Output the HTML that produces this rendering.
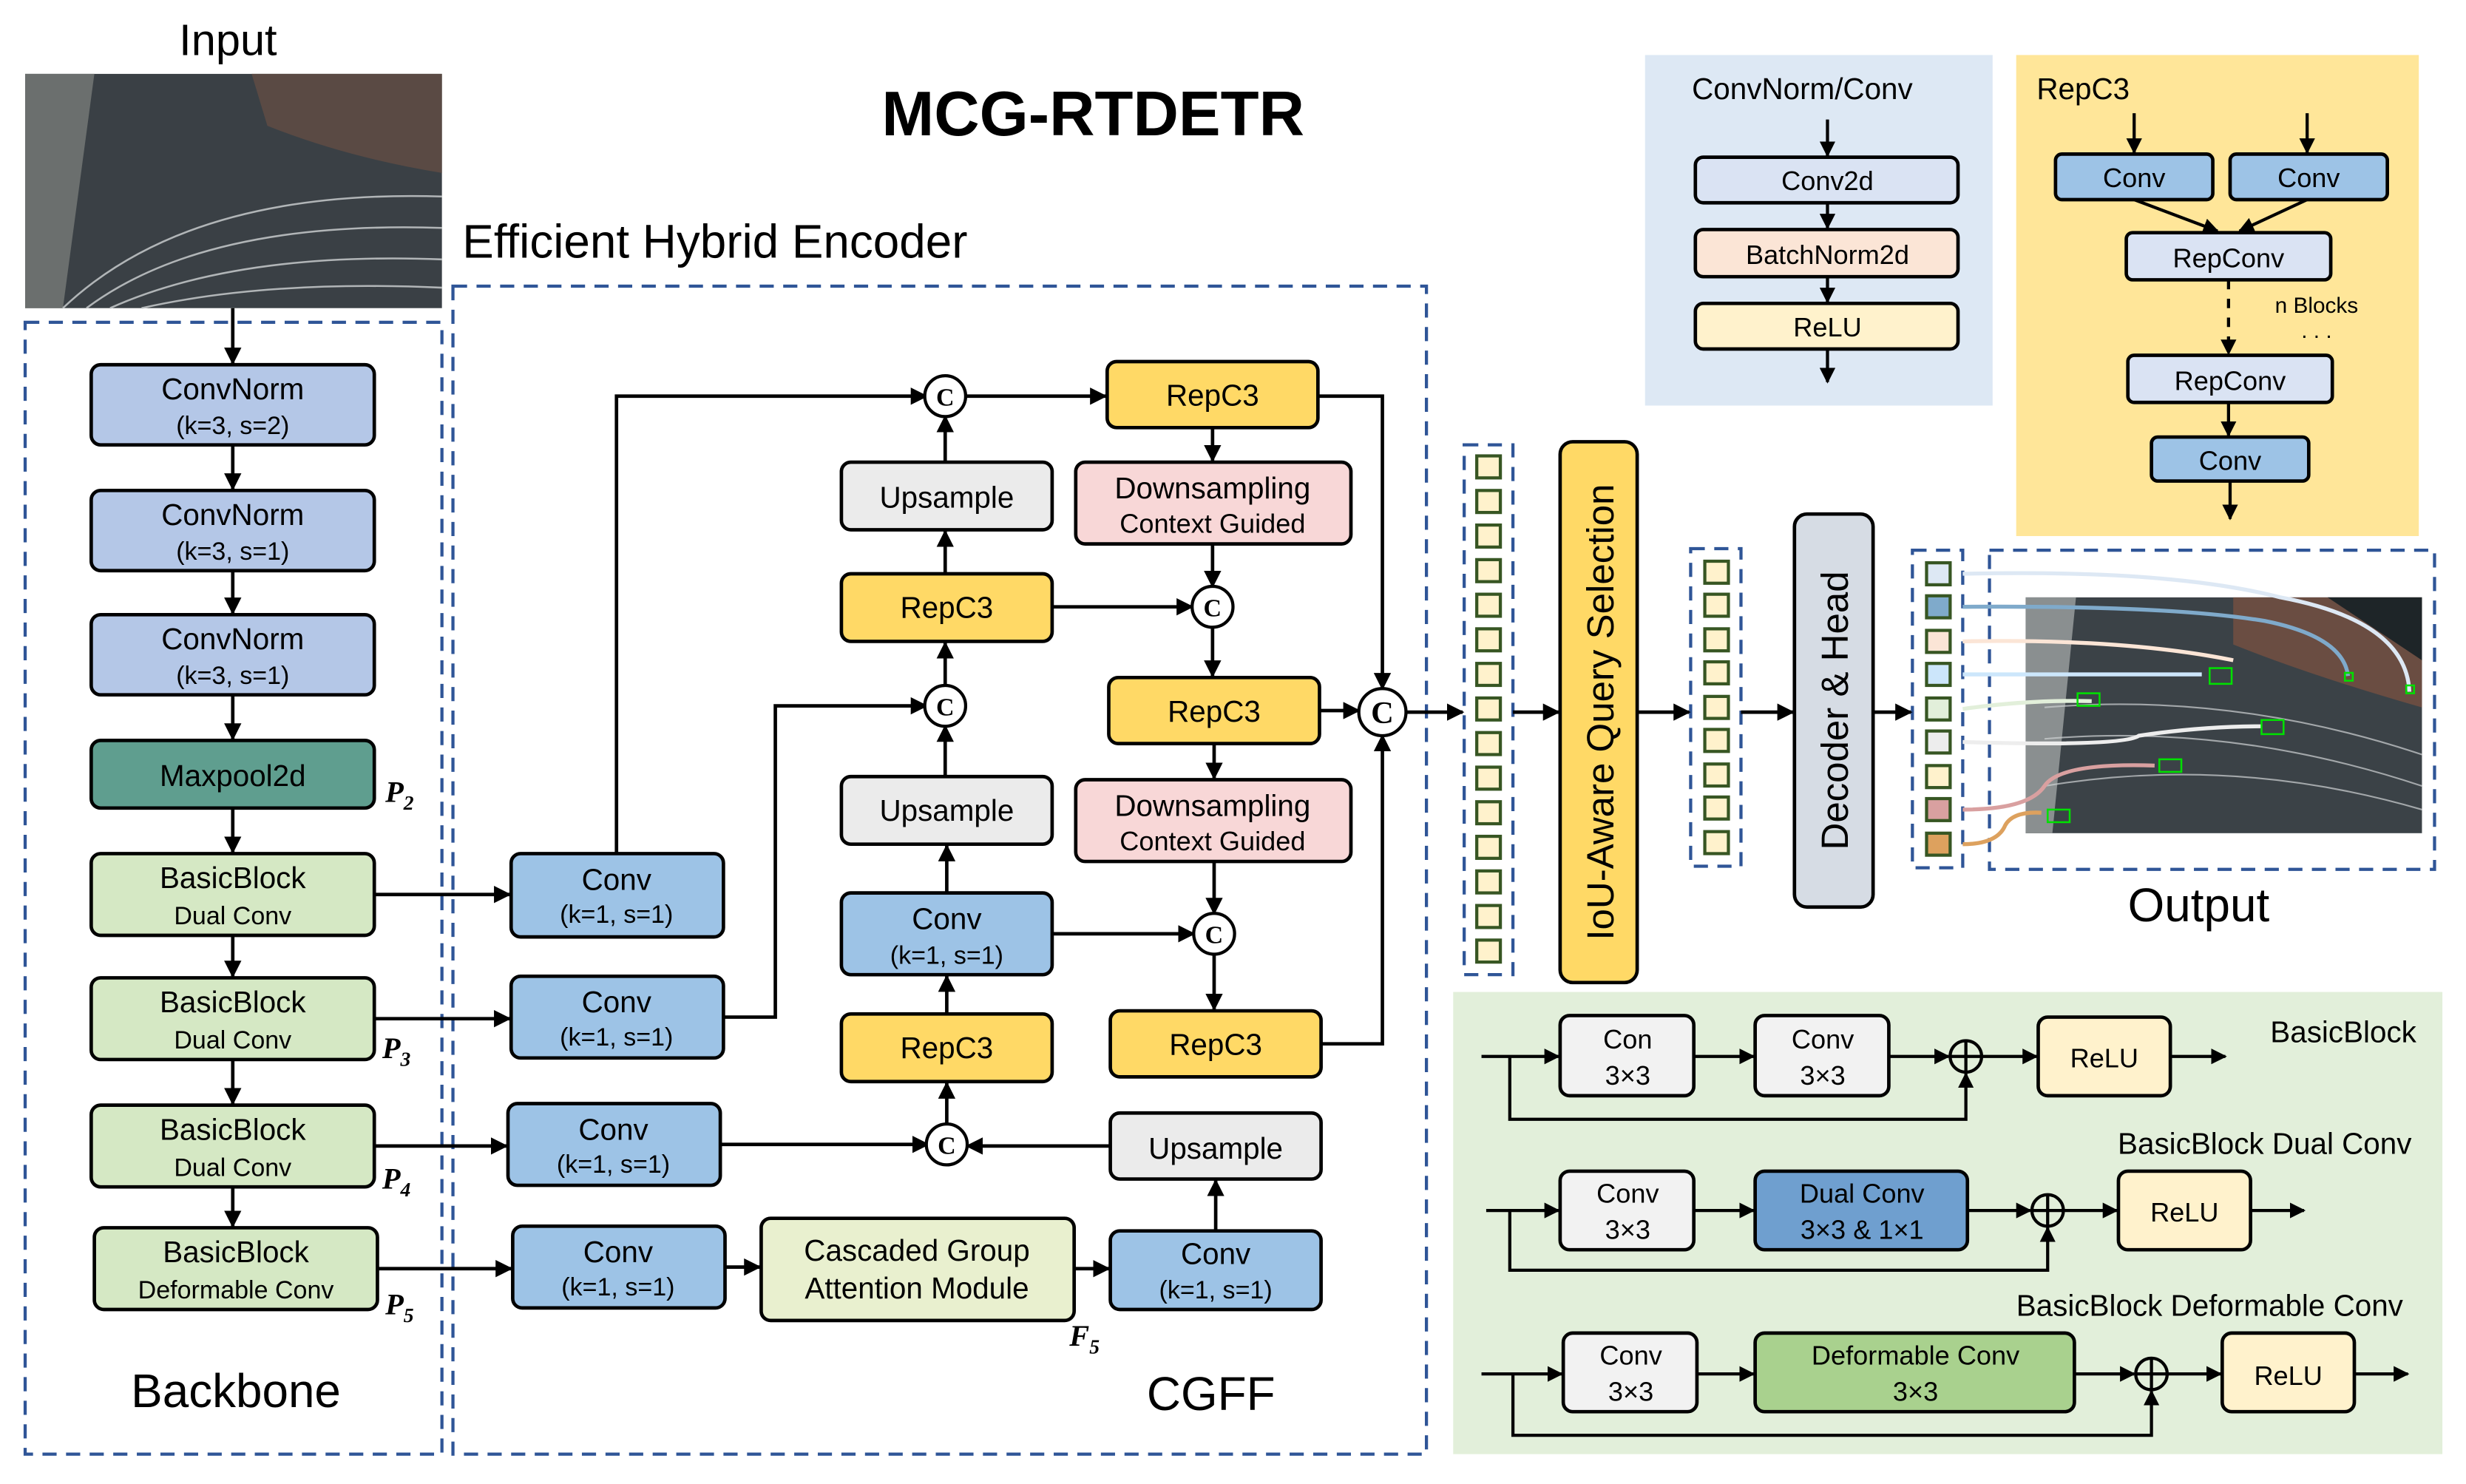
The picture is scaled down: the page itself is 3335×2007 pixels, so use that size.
<!DOCTYPE html>
<html><head><meta charset="utf-8"><style>html,body{margin:0;padding:0;background:#fff}svg{display:block}</style></head><body>
<svg width="3335" height="2007" viewBox="0 0 1568 944" preserveAspectRatio="none" xmlns="http://www.w3.org/2000/svg" font-family="Liberation Sans, DejaVu Sans, sans-serif">
<defs>
<marker id="a" viewBox="0 0 10 10" refX="9" refY="5" markerWidth="5" markerHeight="5" orient="auto-start-reverse"><path d="M0,0L10,5L0,10z" fill="#000"/></marker>
</defs>
<rect width="1568" height="944" fill="#fff"/>
<text x="145" y="35" font-size="28" text-anchor="middle">Input</text>
<text x="695" y="86" font-size="40" font-weight="bold" text-anchor="middle">MCG-RTDETR</text>
<text x="294" y="164" font-size="30">Efficient Hybrid Encoder</text>
<rect x="16" y="47" width="265" height="149" fill="#3a4045"/>
<path d="M16,47 L60,47 L40,196 L16,196z" fill="#6b6f6e"/>
<path d="M160,47 L281,47 L281,110 Q220,100 170,80z" fill="#5a4a44"/>
<g stroke="#cfd3d4" stroke-width="1.2" fill="none" opacity="0.8">
<path d="M40,196 Q120,120 281,125"/><path d="M55,196 Q130,140 281,145"/><path d="M70,196 Q150,160 281,165"/><path d="M90,196 Q170,178 281,183"/>
</g>
<g fill="none" stroke="#2f5597" stroke-width="2" stroke-dasharray="9,6">
<rect x="16" y="205" width="265" height="720"/>
<rect x="288" y="182" width="619" height="743"/>
<rect x="931" y="283" width="31" height="337"/>
<rect x="1075" y="349" width="32" height="202"/>
<rect x="1216" y="350" width="32" height="202"/>
<rect x="1265" y="350" width="283" height="203"/>
</g>
<g stroke="#000" stroke-width="2.2" font-size="19" text-anchor="middle">
<rect x="58" y="232" width="180" height="51" rx="6" fill="#b4c7e7"/>
<rect x="58" y="312" width="180" height="51" rx="6" fill="#b4c7e7"/>
<rect x="58" y="391" width="180" height="51" rx="6" fill="#b4c7e7"/>
<rect x="58" y="471" width="180" height="43" rx="6" fill="#5f9e8f"/>
<rect x="58" y="543" width="180" height="52" rx="6" fill="#d5e8c4"/>
<rect x="58" y="622" width="180" height="52" rx="6" fill="#d5e8c4"/>
<rect x="58" y="703" width="180" height="52" rx="6" fill="#d5e8c4"/>
<rect x="60" y="781" width="180" height="52" rx="6" fill="#d5e8c4"/>
<rect x="325" y="543" width="135" height="53" rx="6" fill="#9dc3e6"/>
<rect x="325" y="621" width="135" height="52" rx="6" fill="#9dc3e6"/>
<rect x="323" y="702" width="135" height="52" rx="6" fill="#9dc3e6"/>
<rect x="326" y="780" width="135" height="52" rx="6" fill="#9dc3e6"/>
<rect x="484" y="775" width="199" height="65" rx="6" fill="#e9f0cf"/>
<rect x="706" y="783" width="134" height="50" rx="6" fill="#9dc3e6"/>
<rect x="706" y="708" width="134" height="42" rx="6" fill="#ebebeb"/>
<rect x="535" y="645" width="134" height="43" rx="6" fill="#ffd966"/>
<rect x="535" y="568" width="134" height="52" rx="6" fill="#9dc3e6"/>
<rect x="535" y="494" width="134" height="43" rx="6" fill="#ebebeb"/>
<rect x="535" y="365" width="134" height="43" rx="6" fill="#ffd966"/>
<rect x="535" y="294" width="134" height="43" rx="6" fill="#ebebeb"/>
<rect x="704" y="230" width="134" height="42" rx="6" fill="#ffd966"/>
<rect x="684" y="294" width="175" height="52" rx="6" fill="#f8d7d7"/>
<rect x="705" y="431" width="134" height="42" rx="6" fill="#ffd966"/>
<rect x="684" y="496" width="175" height="52" rx="6" fill="#f8d7d7"/>
<rect x="706" y="643" width="134" height="42" rx="6" fill="#ffd966"/>
<rect x="992" y="281" width="49" height="344" rx="8" fill="#ffd966"/>
<rect x="1141" y="327" width="50" height="250" rx="8" fill="#d6dce4"/>
</g>
<g font-size="19" text-anchor="middle" fill="#000">
<text x="148" y="254">ConvNorm</text><text x="148" y="276" font-size="16">(k=3, s=2)</text>
<text x="148" y="334">ConvNorm</text><text x="148" y="356" font-size="16">(k=3, s=1)</text>
<text x="148" y="413">ConvNorm</text><text x="148" y="435" font-size="16">(k=3, s=1)</text>
<text x="148" y="500">Maxpool2d</text>
<text x="148" y="565">BasicBlock</text><text x="148" y="588" font-size="16">Dual Conv</text>
<text x="148" y="644">BasicBlock</text><text x="148" y="667" font-size="16">Dual Conv</text>
<text x="148" y="725">BasicBlock</text><text x="148" y="748" font-size="16">Dual Conv</text>
<text x="150" y="803">BasicBlock</text><text x="150" y="826" font-size="16">Deformable Conv</text>
<text x="392" y="566">Conv</text><text x="392" y="587" font-size="16">(k=1, s=1)</text>
<text x="392" y="644">Conv</text><text x="392" y="665" font-size="16">(k=1, s=1)</text>
<text x="390" y="725">Conv</text><text x="390" y="746" font-size="16">(k=1, s=1)</text>
<text x="393" y="803">Conv</text><text x="393" y="824" font-size="16">(k=1, s=1)</text>
<text x="583" y="802">Cascaded Group</text><text x="583" y="826">Attention Module</text>
<text x="773" y="804">Conv</text><text x="773" y="826" font-size="16">(k=1, s=1)</text>
<text x="773" y="737">Upsample</text>
<text x="602" y="673">RepC3</text>
<text x="602" y="591">Conv</text><text x="602" y="613" font-size="16">(k=1, s=1)</text>
<text x="602" y="522">Upsample</text>
<text x="602" y="393">RepC3</text>
<text x="602" y="323">Upsample</text>
<text x="771" y="258">RepC3</text>
<text x="771" y="317">Downsampling</text><text x="771" y="339" font-size="17">Context Guided</text>
<text x="772" y="459">RepC3</text>
<text x="771" y="519">Downsampling</text><text x="771" y="541" font-size="17">Context Guided</text>
<text x="773" y="671">RepC3</text>
<text x="150" y="895" font-size="30">Backbone</text>
<text x="770" y="897" font-size="30">CGFF</text>
<text x="1398" y="586" font-size="30">Output</text>
<text transform="translate(1026,453) rotate(-90)" font-size="24">IoU-Aware Query Selection</text>
<text transform="translate(1175,452) rotate(-90)" font-size="24">Decoder &amp; Head</text>
</g>
<g font-family="Liberation Serif, serif" font-style="italic" font-weight="bold" font-size="19">
<text x="245" y="510">P<tspan font-size="13" dy="5">2</tspan></text>
<text x="243" y="673">P<tspan font-size="13" dy="5">3</tspan></text>
<text x="243" y="756">P<tspan font-size="13" dy="5">4</tspan></text>
<text x="245" y="836">P<tspan font-size="13" dy="5">5</tspan></text>
<text x="680" y="856">F<tspan font-size="13" dy="5">5</tspan></text>
</g>
<g stroke="#000" stroke-width="2.2" fill="none" marker-end="url(#a)">
<path d="M148,196V231"/><path d="M148,283V311"/><path d="M148,363V390"/><path d="M148,442V470"/><path d="M148,514V542"/><path d="M148,595V621"/><path d="M148,674V702"/><path d="M148,755V780"/>
<path d="M238,569H324"/><path d="M238,648H324"/><path d="M238,729H322"/><path d="M240,807H325"/>
<path d="M392,543V252H589"/>
<path d="M460,647H493V449H589"/>
<path d="M458,728H590"/>
<path d="M461,806H483"/>
<path d="M683,807H705"/>
<path d="M773,783V751"/>
<path d="M706,729H615"/>
<path d="M602,716V689"/>
<path d="M602,645V621"/>
<path d="M602,568V538"/>
<path d="M601,494V462"/>
<path d="M601,437V409"/>
<path d="M601,365V338"/>
<path d="M601,294V265"/>
<path d="M614,252H703"/>
<path d="M771,272V293"/>
<path d="M771,346V373"/>
<path d="M669,386H758"/>
<path d="M771,399V430"/>
<path d="M772,473V495"/>
<path d="M772,548V581"/>
<path d="M669,594H759"/>
<path d="M772,607V642"/>
<path d="M838,252H879V438"/>
<path d="M839,452H864"/>
<path d="M840,664H879V468"/>
<path d="M894,453H930"/>
<path d="M962,453H991"/>
<path d="M1041,453H1074"/>
<path d="M1107,453H1140"/>
<path d="M1191,453H1215"/>
</g>
<g stroke="#000" stroke-width="2" fill="#fff">
<circle cx="601" cy="252" r="13"/><circle cx="771" cy="386" r="13"/><circle cx="601" cy="449" r="13"/><circle cx="772" cy="594" r="13"/><circle cx="602" cy="728" r="13"/><circle cx="879" cy="453" r="15"/>
</g>
<g font-family="Liberation Serif, serif" font-size="16" text-anchor="middle" font-weight="bold">
<text x="601" y="258">C</text><text x="771" y="392">C</text><text x="601" y="455">C</text><text x="772" y="600">C</text><text x="602" y="734">C</text><text x="879" y="460" font-size="20">C</text>
</g>
<g stroke="#375623" stroke-width="2" fill="#fff2cc">
<rect x="939" y="290" width="15" height="14"/><rect x="939" y="312" width="15" height="14"/><rect x="939" y="334" width="15" height="14"/><rect x="939" y="356" width="15" height="14"/><rect x="939" y="378" width="15" height="14"/><rect x="939" y="400" width="15" height="14"/><rect x="939" y="422" width="15" height="14"/><rect x="939" y="444" width="15" height="14"/><rect x="939" y="466" width="15" height="14"/><rect x="939" y="488" width="15" height="14"/><rect x="939" y="510" width="15" height="14"/><rect x="939" y="532" width="15" height="14"/><rect x="939" y="554" width="15" height="14"/><rect x="939" y="576" width="15" height="14"/><rect x="939" y="598" width="15" height="14"/>
<rect x="1084" y="357" width="15" height="14"/><rect x="1084" y="378" width="15" height="14"/><rect x="1084" y="400" width="15" height="14"/><rect x="1084" y="421" width="15" height="14"/><rect x="1084" y="443" width="15" height="14"/><rect x="1084" y="464" width="15" height="14"/><rect x="1084" y="486" width="15" height="14"/><rect x="1084" y="507" width="15" height="14"/><rect x="1084" y="529" width="15" height="14"/>
<rect x="1225" y="358" width="15" height="14" fill="#dde8f4"/><rect x="1225" y="379" width="15" height="14" fill="#7faacb"/><rect x="1225" y="401" width="15" height="14" fill="#fbe5d6"/><rect x="1225" y="422" width="15" height="14" fill="#cce6fb"/><rect x="1225" y="444" width="15" height="14" fill="#e2efda"/><rect x="1225" y="465" width="15" height="14" fill="#ededed"/><rect x="1225" y="487" width="15" height="14" fill="#fff2cc"/><rect x="1225" y="508" width="15" height="14" fill="#d9a0a0"/><rect x="1225" y="530" width="15" height="14" fill="#dda15e"/>
</g>
<rect x="1288" y="380" width="252" height="150" fill="#3b4247"/>
<path d="M1288,380 L1320,380 L1305,530 L1288,530z" fill="#8a8f90"/>
<path d="M1420,380 L1540,380 L1540,450 Q1470,430 1420,410z" fill="#6a4d42"/>
<path d="M1480,380 L1540,380 L1540,420z" fill="#1e2528"/>
<g stroke="#cfd3d4" stroke-width="1" fill="none" opacity="0.7">
<path d="M1300,450 Q1420,440 1540,480"/><path d="M1300,470 Q1420,460 1540,500"/><path d="M1300,500 Q1420,480 1540,515"/>
</g>
<g fill="none" stroke-width="2.5">
<path d="M1248,365 Q1380,362 1450,380 Q1530,395 1532,440" stroke="#dde8f4"/>
<path d="M1248,386 Q1380,385 1440,395 Q1490,405 1493,430" stroke="#7faacb"/>
<path d="M1248,408 Q1350,406 1420,420" stroke="#fbe5d6"/>
<path d="M1248,429 H1400" stroke="#cce6fb"/>
<path d="M1248,451 Q1290,445 1330,446" stroke="#e2efda"/>
<path d="M1248,472 Q1350,475 1360,468 Q1400,462 1438,462" stroke="#ededed"/>
<path d="M1248,515 Q1290,515 1300,500 Q1310,485 1370,487" stroke="#d9a0a0"/>
<path d="M1248,537 Q1270,537 1275,525 Q1280,516 1298,517" stroke="#dda15e"/>
</g>
<g fill="none" stroke="#00e000" stroke-width="1.2">
<rect x="1405" y="425" width="14" height="10"/><rect x="1321" y="441" width="14" height="8"/><rect x="1438" y="458" width="14" height="9"/><rect x="1373" y="483" width="14" height="8"/><rect x="1302" y="515" width="14" height="8"/><rect x="1530" y="436" width="5" height="5"/><rect x="1491" y="428" width="5" height="5"/>
</g>
<rect x="1046" y="35" width="221" height="223" fill="#dde8f4"/>
<text x="1146" y="63" font-size="19" text-anchor="middle">ConvNorm/Conv</text>
<g stroke="#000" stroke-width="2.2">
<rect x="1078" y="100" width="167" height="29" rx="5" fill="#dae3f3"/>
<rect x="1078" y="146" width="167" height="30" rx="5" fill="#fbe5d6"/>
<rect x="1078" y="193" width="167" height="29" rx="5" fill="#fff2cc"/>
</g>
<g stroke="#000" stroke-width="2" marker-end="url(#a)" fill="none">
<path d="M1162,76V99"/><path d="M1162,129V145"/><path d="M1162,176V192"/><path d="M1162,222V243"/>
</g>
<g font-size="17" text-anchor="middle"><text x="1162" y="121">Conv2d</text><text x="1162" y="168">BatchNorm2d</text><text x="1162" y="214">ReLU</text></g>
<rect x="1282" y="35" width="256" height="306" fill="#ffe699"/>
<text x="1295" y="63" font-size="19">RepC3</text>
<g stroke="#000" stroke-width="2.2">
<rect x="1307" y="98" width="100" height="29" rx="4" fill="#9dc3e6"/>
<rect x="1418" y="98" width="100" height="29" rx="4" fill="#9dc3e6"/>
<rect x="1352" y="148" width="130" height="30" rx="4" fill="#dae3f3"/>
<rect x="1353" y="226" width="130" height="30" rx="4" fill="#dae3f3"/>
<rect x="1368" y="278" width="100" height="28" rx="4" fill="#9dc3e6"/>
</g>
<g stroke="#000" stroke-width="2" fill="none" marker-end="url(#a)">
<path d="M1357,72V97"/><path d="M1467,72V97"/><path d="M1357,127L1410,147"/><path d="M1467,127L1424,147"/><path d="M1417,256V277"/><path d="M1418,306V330"/>
<path d="M1417,178V225" stroke-dasharray="6,6"/>
</g>
<g font-size="17" text-anchor="middle"><text x="1357" y="119">Conv</text><text x="1468" y="119">Conv</text><text x="1417" y="170">RepConv</text><text x="1418" y="248">RepConv</text><text x="1418" y="299">Conv</text>
<text x="1473" y="199" font-size="14">n Blocks</text><text x="1473" y="215" font-size="14">. . .</text></g>
<rect x="924" y="631" width="629" height="294" fill="#e2efda"/>
<g stroke="#000" stroke-width="2.2">
<rect x="992" y="646" width="85" height="51" rx="6" fill="#f2f2f2"/>
<rect x="1116" y="646" width="85" height="51" rx="6" fill="#f2f2f2"/>
<rect x="1296" y="647" width="84" height="50" rx="6" fill="#fff2cc"/>
<rect x="992" y="745" width="85" height="50" rx="6" fill="#f2f2f2"/>
<rect x="1116" y="745" width="135" height="50" rx="6" fill="#6f9fcf"/>
<rect x="1347" y="745" width="84" height="50" rx="6" fill="#fff2cc"/>
<rect x="994" y="848" width="85" height="50" rx="6" fill="#f2f2f2"/>
<rect x="1116" y="848" width="203" height="50" rx="6" fill="#a9d18e"/>
<rect x="1413" y="848" width="84" height="50" rx="6" fill="#fff2cc"/>
</g>
<g stroke="#000" stroke-width="2" fill="none">
<circle cx="1250" cy="672" r="10"/><path d="M1240,672H1260M1250,662V682"/>
<circle cx="1302" cy="770" r="10"/><path d="M1292,770H1312M1302,760V780"/>
<circle cx="1368" cy="874" r="10"/><path d="M1358,874H1378M1368,864V884"/>
</g>
<g stroke="#000" stroke-width="2" fill="none" marker-end="url(#a)">
<path d="M942,672H991"/><path d="M1077,672H1115"/><path d="M1201,672H1239"/><path d="M1260,672H1295"/><path d="M1380,672H1415"/><path d="M960,672V712H1250V683"/>
<path d="M945,770H991"/><path d="M1077,770H1115"/><path d="M1251,770H1291"/><path d="M1312,770H1346"/><path d="M1431,770H1465"/><path d="M960,770V808H1302V781"/>
<path d="M942,874H993"/><path d="M1079,874H1115"/><path d="M1319,874H1357"/><path d="M1378,874H1412"/><path d="M1497,874H1531"/><path d="M962,874V913H1368V885"/>
</g>
<g font-size="17" text-anchor="middle">
<text x="1035" y="667">Con</text><text x="1035" y="690">3×3</text>
<text x="1159" y="667">Conv</text><text x="1159" y="690">3×3</text>
<text x="1338" y="679">ReLU</text>
<text x="1035" y="765">Conv</text><text x="1035" y="788">3×3</text>
<text x="1184" y="765">Dual Conv</text><text x="1184" y="788">3×3 &amp; 1×1</text>
<text x="1389" y="777">ReLU</text>
<text x="1037" y="868">Conv</text><text x="1037" y="891">3×3</text>
<text x="1218" y="868">Deformable Conv</text><text x="1218" y="891">3×3</text>
<text x="1455" y="881">ReLU</text>
<text x="1490" y="663" font-size="19">BasicBlock</text>
<text x="1440" y="734" font-size="19">BasicBlock Dual Conv</text>
<text x="1405" y="837" font-size="19">BasicBlock Deformable Conv</text>
</g>
</svg>
</body></html>
